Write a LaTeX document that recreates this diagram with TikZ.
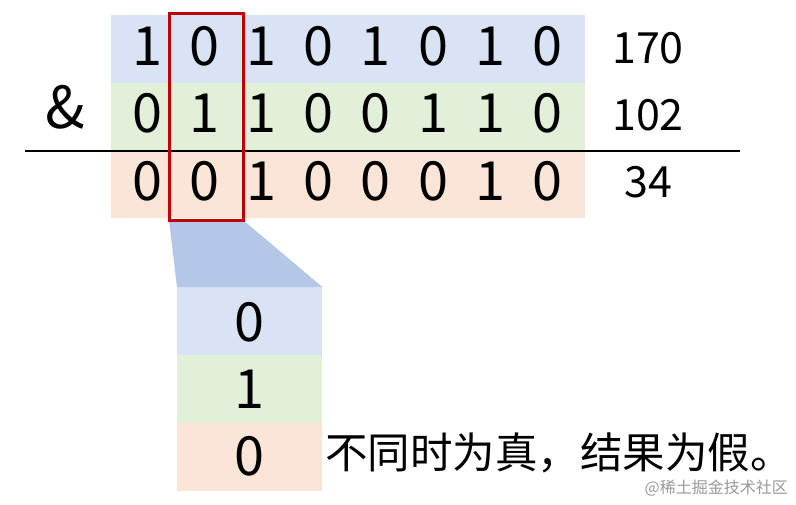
\documentclass[tikz,border=0pt]{standalone}
\usepackage{fontspec}
\setmainfont{Noto Sans CJK SC}
\newfontfamily\cjk{Noto Sans CJK SC}
\begin{document}
\begin{tikzpicture}[x=1pt,y=-1pt,
  bigdigit/.style={anchor=base,inner sep=0pt,font=\fontsize{54}{54}\selectfont},
  sidenum/.style={anchor=base,inner sep=0pt,font=\fontsize{43}{43}\selectfont},
  cell/.style={draw=none,inner sep=0pt,minimum width=145pt,minimum height=67.67pt}]
\definecolor{bluebg}{HTML}{DAE3F3}
\definecolor{greenbg}{HTML}{E2F0D9}
\definecolor{orangebg}{HTML}{FBE5D6}
\definecolor{trap}{HTML}{B4C7E7}
\definecolor{redbox}{HTML}{C00000}
\useasboundingbox (0,0) rectangle (796,504);
% top rows
\fill[bluebg] (111,15) rectangle (585,83);
\fill[greenbg] (111,83) rectangle (585,151);
\fill[orangebg] (111,151) rectangle (585,218);
% digits
\foreach \d [count=\i from 0] in {1,0,1,0,1,0,1,0}
  \node[bigdigit] (a\i) at (147+57.2*\i,65) {\d};
\foreach \d [count=\i from 0] in {0,1,1,0,0,1,1,0}
  \node[bigdigit] (b\i) at (147+57.2*\i,132) {\d};
\foreach \d [count=\i from 0] in {0,0,1,0,0,0,1,0}
  \node[bigdigit] (c\i) at (147+57.2*\i,200) {\d};
\node[sidenum] (n1) at (648,63) {170};
\node[sidenum] (n2) at (648,130) {102};
\node[sidenum] (n3) at (648,197) {34};
\node[anchor=base,inner sep=0pt,font=\fontsize{58}{58}\selectfont] (amp) at (65,128) {\&};
% line
\coordinate (l1) at (25,151);
\coordinate (l2) at (740,151);
\draw[line width=2pt] (l1) -- (l2);
% lower column cells
\node[cell,fill=bluebg,anchor=north west] (d1) at (177,287) {};
\node[cell,fill=greenbg,anchor=north west] (d2) at (d1.south west) {};
\node[cell,fill=orangebg,anchor=north west] (d3) at (d2.south west) {};
% trapezoid
\node[draw=none,inner sep=0pt,minimum width=74pt,minimum height=207pt,anchor=north west] (rb) at (169,13) {};
\fill[trap] (rb.south west) -- (rb.south east) -- (d1.north east) -- (d1.north west) -- cycle;
\draw[redbox,line width=3pt] (rb.south west) rectangle (rb.north east);
\node[bigdigit] (e1) at (249.5,341) {0};
\node[bigdigit] (e2) at (249.5,408) {1};
\node[bigdigit] (e3) at (249.5,475) {0};
\node[anchor=base west,inner sep=0pt,font=\fontsize{42.5}{42.5}\selectfont] (txt) at (325,468) {不同时为真，结果为假。};
\node[anchor=base east,inner sep=0pt,text=black!40,font=\fontsize{16}{16}\selectfont] (wm) at (788,493) {@稀土掘金技术社区};
\end{tikzpicture}
\end{document}
